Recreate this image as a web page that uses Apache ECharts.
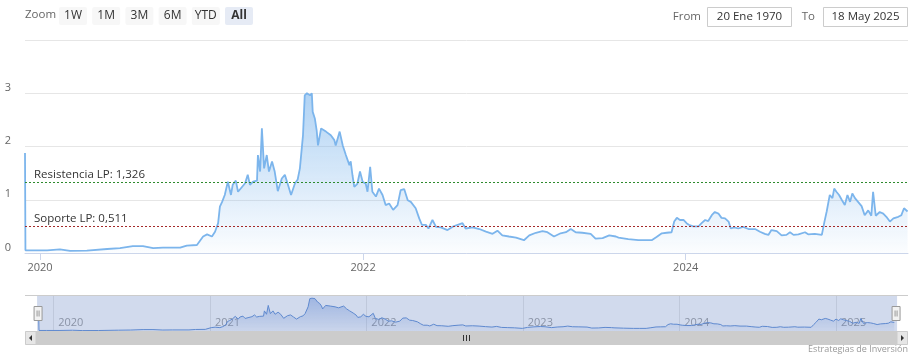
<!DOCTYPE html>
<html>
<head>
<meta charset="utf-8">
<script src="https://cdn.jsdelivr.net/npm/echarts@6/dist/echarts.min.js"></script>
<style>
html,body{margin:0;padding:0;background:#fff;}
#chart{width:916px;height:362px;}
</style>
</head>
<body>
<div id="chart"></div>
<script>
// ---- data ----
const dates = [
'2019-11-28','2019-11-29','2019-12-16','2020-01-17','2020-02-15','2020-03-09','2020-04-16','2020-06-01','2020-06-30','2020-07-29',
'2020-08-21','2020-09-13','2020-10-05','2020-11-13','2020-11-28','2020-12-21','2021-01-04','2021-01-13','2021-01-24','2021-01-31',
'2021-02-07','2021-02-11','2021-02-16','2021-02-22','2021-03-01','2021-03-08','2021-03-12','2021-03-19','2021-03-24','2021-04-02',
'2021-04-09','2021-04-15','2021-04-20','2021-04-27','2021-05-06','2021-05-08','2021-05-13','2021-05-17','2021-05-22','2021-05-28',
'2021-06-02','2021-06-09','2021-06-15','2021-06-22','2021-07-01','2021-07-08','2021-07-15','2021-07-22','2021-07-31','2021-08-06',
'2021-08-11','2021-08-18','2021-08-22','2021-08-27','2021-09-03','2021-09-07','2021-09-09','2021-09-14','2021-09-18','2021-09-21',
'2021-09-28','2021-10-09','2021-10-20','2021-10-28','2021-10-31','2021-11-09','2021-11-16','2021-11-23','2021-12-01','2021-12-04',
'2021-12-08','2021-12-12','2021-12-19','2021-12-25','2021-12-31','2022-01-07','2022-01-11','2022-01-17','2022-01-22','2022-01-30',
'2022-02-06','2022-02-14','2022-02-21','2022-03-01','2022-03-10','2022-03-20','2022-03-27','2022-04-04','2022-04-12','2022-04-19',
'2022-04-30','2022-05-08','2022-05-14','2022-05-23','2022-05-29','2022-06-07','2022-06-15','2022-06-26','2022-07-11','2022-07-22',
'2022-08-03','2022-08-14','2022-08-21','2022-09-06','2022-09-21','2022-10-06','2022-10-21','2022-11-01','2022-11-12','2022-11-27',
'2022-12-13','2022-12-31','2023-01-12','2023-01-27','2023-02-11','2023-02-22','2023-03-09','2023-03-24','2023-04-05','2023-04-16',
'2023-04-27','2023-05-12','2023-05-31','2023-06-11','2023-06-27','2023-07-12','2023-07-27','2023-08-02','2023-08-24','2023-09-16',
'2023-10-01','2023-10-16','2023-10-27','2023-11-08','2023-11-19','2023-11-30','2023-12-06','2023-12-12','2023-12-19','2023-12-27',
'2024-01-03','2024-01-08','2024-01-18','2024-01-30','2024-02-06','2024-02-14','2024-02-21','2024-02-29','2024-03-07','2024-03-15',
'2024-03-22','2024-03-30','2024-04-07','2024-04-12','2024-04-20','2024-04-29','2024-05-10','2024-05-22','2024-06-06','2024-06-17',
'2024-06-28','2024-07-06','2024-07-13','2024-07-25','2024-08-05','2024-08-16','2024-08-24','2024-09-01','2024-09-12','2024-09-27',
'2024-10-04','2024-10-19','2024-11-04','2024-11-10','2024-11-15','2024-11-22','2024-11-28','2024-12-02','2024-12-07','2024-12-13',
'2024-12-19','2024-12-26','2025-01-01','2025-01-07','2025-01-12','2025-01-18','2025-01-25','2025-02-02','2025-02-09','2025-02-17',
'2025-02-24','2025-02-28','2025-03-06','2025-03-15','2025-03-23','2025-03-30','2025-04-07','2025-04-15','2025-04-26','2025-05-03',
'2025-05-09','2025-05-17'
];
const values = [
1.88,0.05,0.05,0.05,0.07,0.04,0.045,0.075,0.09,0.13,
0.13,0.09,0.10,0.10,0.14,0.15,0.31,0.35,0.31,0.40,
0.56,0.87,0.96,1.09,1.34,1.09,1.28,1.36,1.15,1.24,
1.31,1.47,1.28,1.34,1.36,1.84,1.53,2.34,1.59,1.84,
1.53,1.72,1.53,1.16,1.40,1.47,1.28,1.09,1.31,1.38,
1.59,2.21,2.96,3.00,2.96,3.00,2.65,2.52,2.30,2.02,
2.34,2.28,2.21,2.12,2.02,2.28,2.02,1.84,1.65,1.72,
1.46,1.24,1.30,1.53,1.34,1.30,1.15,1.62,1.15,1.06,
1.21,1.09,0.90,0.93,0.81,0.90,1.18,1.20,0.99,0.96,
0.84,0.65,0.53,0.53,0.46,0.62,0.49,0.48,0.43,0.49,
0.53,0.56,0.46,0.48,0.45,0.40,0.36,0.42,0.33,0.31,
0.29,0.24,0.33,0.38,0.41,0.39,0.31,0.37,0.39,0.45,
0.39,0.38,0.36,0.27,0.28,0.33,0.31,0.29,0.26,0.24,
0.24,0.24,0.30,0.37,0.38,0.39,0.59,0.66,0.62,0.62,
0.56,0.53,0.50,0.50,0.56,0.62,0.60,0.71,0.77,0.74,
0.66,0.65,0.59,0.46,0.48,0.46,0.49,0.45,0.45,0.40,
0.36,0.34,0.43,0.41,0.33,0.34,0.39,0.34,0.35,0.39,
0.35,0.36,0.34,0.59,0.78,1.09,1.03,1.21,1.15,1.09,
1.00,0.90,1.09,0.96,1.12,1.03,0.96,0.88,0.71,0.80,
0.70,1.15,0.70,0.77,0.74,0.68,0.59,0.65,0.68,0.71,
0.84,0.78
];
const levelNames = ['Resistencia LP', 'Soporte LP'];
const levelValues = [1.326, 0.511];
const xTickDates = ['2020-01-01', '2022-01-01', '2024-01-01'];
const xTickLabels = ['2020', '2022', '2024'];
const navTickDates = ['2020-01-01','2021-01-01','2022-01-01','2023-01-01','2024-01-01','2025-01-01'];
const navTickLabels = ['2020','2021','2022','2023','2024','2025'];
const rangeButtons = ['1W','1M','3M','6M','YTD','All'];
const fromText = '20 Ene 1970';
const toText = '18 May 2025';
const creditText = 'Estrategias de Inversión';

// ---- build ----
const FONT = 'Open Sans';
const parse = s => +echarts.time.parse(s);
const seriesData = dates.map((d, i) => [parse(d), values[i]]);
const xTickValues = xTickDates.map(parse);
const navTickValues = navTickDates.map(parse);
function labelFor(v, vals, labs) {
  for (let i = 0; i < vals.length; i++) if (Math.abs(vals[i] - v) < 3600000 * 12) return labs[i];
  return '';
}
const fmt = v => v.toFixed(3).replace('.', ',');

const chart = echarts.init(document.getElementById('chart'), null, {renderer: 'canvas'});

const graphics = [];
graphics.push({type:'text', left:25, top:9, style:{text:'Zoom', fill:'#666', font:'11.5px "Open Sans"'}});
rangeButtons.forEach((b, i) => {
  const sel = b === 'All';
  const x = 59 + i * 33.2;
  graphics.push({type:'rect', shape:{x:x, y:7, width:28, height:18, r:2}, style:{fill: sel ? '#e6ebf5' : '#f7f7f7'}});
  graphics.push({type:'text', x: x + 14, y: 16, style:{text:b, fill:'#333', font:(sel?'bold ':'') + '12px "Open Sans"', align:'center', verticalAlign:'middle'}});
});
graphics.push({type:'text', x:701, y:16.5, style:{text:'From', fill:'#666', font:'11.5px "Open Sans"', align:'right', verticalAlign:'middle'}});
graphics.push({type:'rect', shape:{x:707.5, y:7.5, width:84, height:19}, style:{fill:'#fff', stroke:'#cccccc', lineWidth:1}});
graphics.push({type:'text', x:749.5, y:16.5, style:{text:fromText, fill:'#333', font:'11.5px "Open Sans"', align:'center', verticalAlign:'middle'}});
graphics.push({type:'text', x:815, y:16.5, style:{text:'To', fill:'#666', font:'11.5px "Open Sans"', align:'right', verticalAlign:'middle'}});
graphics.push({type:'rect', shape:{x:823.5, y:7.5, width:84, height:19}, style:{fill:'#fff', stroke:'#cccccc', lineWidth:1}});
graphics.push({type:'text', x:865.5, y:16.5, style:{text:toText, fill:'#333', font:'11.5px "Open Sans"', align:'center', verticalAlign:'middle'}});
graphics.push({type:'line', shape:{x1:25, y1:295.5, x2:908, y2:295.5}, style:{stroke:'#cccccc', lineWidth:1}, z:10});
graphics.push({type:'rect', shape:{x:25, y:331, width:883, height:14}, style:{fill:'#f2f2f2'}, z:10});
graphics.push({type:'rect', shape:{x:36, y:331, width:861, height:14}, style:{fill:'#cccccc'}, z:10});
graphics.push({type:'rect', shape:{x:25.5, y:331.5, width:10.5, height:13}, style:{fill:'#e6e6e6', stroke:'#cccccc'}, z:10});
graphics.push({type:'rect', shape:{x:897, y:331.5, width:10.5, height:13}, style:{fill:'#e6e6e6', stroke:'#cccccc'}, z:10});
graphics.push({type:'polygon', shape:{points:[[29,338],[32,335],[32,341]]}, style:{fill:'#333'}, z:11});
graphics.push({type:'polygon', shape:{points:[[904,338],[901,335],[901,341]]}, style:{fill:'#333'}, z:11});
[463.5, 466.5, 469.5].forEach(x => graphics.push({type:'line', shape:{x1:x, y1:335, x2:x, y2:341}, style:{stroke:'#333', lineWidth:1}, z:11}));
graphics.push({type:'text', right:8, top:345, style:{text:creditText, fill:'#999', font:'9px "Open Sans"'}});

const option = {
  animation: false,
  textStyle: {fontFamily: FONT},
  grid: [
    {left:25, right:8, top:40, bottom:109, containLabel:false},
    {left:36, right:20, top:296, height:35, containLabel:false}
  ],
  xAxis: [
    {
      type:'value', gridIndex:0, min:parse(dates[0]), max:parse('2025-05-18'), scale:true,
      axisLine:{show:true, lineStyle:{color:'#ccd6eb'}},
      axisTick:{show:true, length:7, lineStyle:{color:'#ccd6eb'}, customValues:xTickValues},
      axisLabel:{customValues:xTickValues, formatter:v => labelFor(v, xTickValues, xTickLabels), color:'#666', fontSize:11, margin:9, fontFamily:FONT},
      splitLine:{show:false}
    },
    {
      type:'value', gridIndex:1, min:parse('2019-11-22'), max:parse('2025-05-21'), scale:true,
      axisLine:{show:false},
      axisTick:{show:false, customValues:navTickValues},
      axisLabel:{inside:true, customValues:navTickValues, formatter:v => labelFor(v, navTickValues, navTickLabels), color:'#999', fontSize:11, margin:3, align:'left', padding:[0,0,0,5], fontFamily:FONT},
      splitLine:{show:true, lineStyle:{color:'#e6e6e6', width:1}}
    }
  ],
  yAxis: [
    {
      type:'value', gridIndex:0, min:0, max:4, interval:1,
      axisLine:{show:false}, axisTick:{show:false},
      axisLabel:{color:'#666', fontSize:11, margin:14, verticalAlign:'bottom', showMaxLabel:false, fontFamily:FONT},
      splitLine:{show:true, lineStyle:{color:'#e6e6e6'}}
    },
    {type:'value', gridIndex:1, min:0, max:3.2, show:false}
  ],
  dataZoom: [{
    type:'slider', xAxisIndex:0, filterMode:'none', start:0, end:100,
    left:36, right:20, top:296, height:35,
    showDetail:false, showDataShadow:false, brushSelect:false, moveHandleSize:0,
    backgroundColor:'rgba(0,0,0,0)', borderColor:'rgba(0,0,0,0)',
    fillerColor:'rgba(102,133,194,0.3)',
    handleIcon:'path://M0,0 L8,0 L8,14 L0,14 Z M3,4 L3,10 M5,4 L5,10',
    handleSize:14,
    handleStyle:{color:'#f2f2f2', borderColor:'#999999', borderWidth:1},
    emphasis:{handleStyle:{color:'#f2f2f2', borderColor:'#999999'}},
    z:5
  }],
  series: [
    {
      type:'line', xAxisIndex:0, yAxisIndex:0, data:seriesData,
      showSymbol:false, symbol:'none', smooth:false,
      lineStyle:{color:'#7cb5ec', width:1.8},
      areaStyle:{color:{type:'linear', x:0, y:0, x2:0, y2:1, colorStops:[
        {offset:0, color:'rgba(124,181,236,0.85)'},
        {offset:1, color:'rgba(124,181,236,0.04)'}
      ]}},
      silent:true,
      markLine:{
        silent:true, symbol:['none','none'],
        data: levelValues.map((v, i) => ({
          yAxis: v,
          lineStyle:{color: i === 0 ? '#2e8b2e' : '#a52a2a', type:[2,2], width:1},
          label:{show:true, position:'insideStartTop', formatter: levelNames[i] + ': ' + fmt(v), color:'#333', fontSize:11.5, fontFamily:FONT, distance:[9, 1]}
        }))
      }
    },
    {
      type:'line', xAxisIndex:1, yAxisIndex:1, data:seriesData,
      showSymbol:false, symbol:'none', silent:true,
      lineStyle:{color:'#5b8bd4', width:1},
      areaStyle:{color:{type:'linear', x:0, y:0, x2:0, y2:1, colorStops:[
        {offset:0, color:'rgba(70,120,210,0.55)'},
        {offset:1, color:'rgba(70,120,210,0.08)'}
      ]}}
    }
  ],
  graphic: graphics
};
chart.setOption(option);
</script>
</body>
</html>
